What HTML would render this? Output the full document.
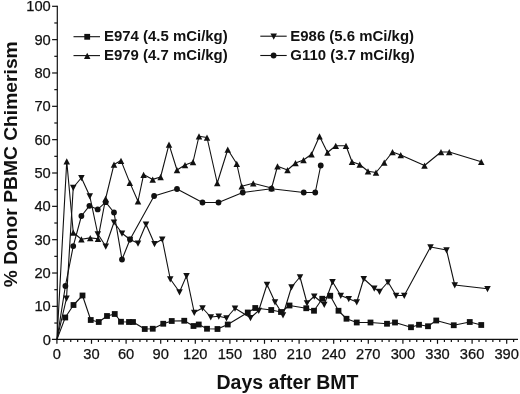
<!DOCTYPE html>
<html><head><meta charset="utf-8"><title>Donor PBMC Chimerism</title>
<style>html,body{margin:0;padding:0;background:#fff}svg{display:block}text{font-family:"Liberation Sans",Arial,sans-serif;fill:#111}</style></head><body>
<svg width="520" height="394" viewBox="0 0 520 394">
<rect width="520" height="394" fill="#fff"/>
<g stroke="#111" stroke-width="1.2" fill="none">
<line x1="57.3" y1="5.7" x2="57.3" y2="340.0"/>
<line x1="51.9" y1="339.4" x2="518" y2="339.4"/>
<line x1="54.30" y1="323.03" x2="57.3" y2="323.03"/>
<line x1="52.10" y1="306.36" x2="57.3" y2="306.36"/>
<line x1="54.30" y1="289.69" x2="57.3" y2="289.69"/>
<line x1="52.10" y1="273.02" x2="57.3" y2="273.02"/>
<line x1="54.30" y1="256.35" x2="57.3" y2="256.35"/>
<line x1="52.10" y1="239.68" x2="57.3" y2="239.68"/>
<line x1="54.30" y1="223.01" x2="57.3" y2="223.01"/>
<line x1="52.10" y1="206.34" x2="57.3" y2="206.34"/>
<line x1="54.30" y1="189.67" x2="57.3" y2="189.67"/>
<line x1="52.10" y1="173.00" x2="57.3" y2="173.00"/>
<line x1="54.30" y1="156.33" x2="57.3" y2="156.33"/>
<line x1="52.10" y1="139.66" x2="57.3" y2="139.66"/>
<line x1="54.30" y1="122.99" x2="57.3" y2="122.99"/>
<line x1="52.10" y1="106.32" x2="57.3" y2="106.32"/>
<line x1="54.30" y1="89.65" x2="57.3" y2="89.65"/>
<line x1="52.10" y1="72.98" x2="57.3" y2="72.98"/>
<line x1="54.30" y1="56.31" x2="57.3" y2="56.31"/>
<line x1="52.10" y1="39.64" x2="57.3" y2="39.64"/>
<line x1="54.30" y1="22.97" x2="57.3" y2="22.97"/>
<line x1="52.10" y1="6.30" x2="57.3" y2="6.30"/>
<line x1="56.90" y1="339.4" x2="56.90" y2="343.80"/>
<line x1="63.82" y1="339.4" x2="63.82" y2="342.00"/>
<line x1="70.74" y1="339.4" x2="70.74" y2="342.00"/>
<line x1="77.66" y1="339.4" x2="77.66" y2="342.00"/>
<line x1="84.58" y1="339.4" x2="84.58" y2="342.00"/>
<line x1="91.50" y1="339.4" x2="91.50" y2="343.80"/>
<line x1="98.42" y1="339.4" x2="98.42" y2="342.00"/>
<line x1="105.34" y1="339.4" x2="105.34" y2="342.00"/>
<line x1="112.26" y1="339.4" x2="112.26" y2="342.00"/>
<line x1="119.18" y1="339.4" x2="119.18" y2="342.00"/>
<line x1="126.10" y1="339.4" x2="126.10" y2="343.80"/>
<line x1="133.02" y1="339.4" x2="133.02" y2="342.00"/>
<line x1="139.94" y1="339.4" x2="139.94" y2="342.00"/>
<line x1="146.86" y1="339.4" x2="146.86" y2="342.00"/>
<line x1="153.78" y1="339.4" x2="153.78" y2="342.00"/>
<line x1="160.70" y1="339.4" x2="160.70" y2="343.80"/>
<line x1="167.62" y1="339.4" x2="167.62" y2="342.00"/>
<line x1="174.54" y1="339.4" x2="174.54" y2="342.00"/>
<line x1="181.46" y1="339.4" x2="181.46" y2="342.00"/>
<line x1="188.38" y1="339.4" x2="188.38" y2="342.00"/>
<line x1="195.30" y1="339.4" x2="195.30" y2="343.80"/>
<line x1="202.22" y1="339.4" x2="202.22" y2="342.00"/>
<line x1="209.14" y1="339.4" x2="209.14" y2="342.00"/>
<line x1="216.06" y1="339.4" x2="216.06" y2="342.00"/>
<line x1="222.98" y1="339.4" x2="222.98" y2="342.00"/>
<line x1="229.90" y1="339.4" x2="229.90" y2="343.80"/>
<line x1="236.82" y1="339.4" x2="236.82" y2="342.00"/>
<line x1="243.74" y1="339.4" x2="243.74" y2="342.00"/>
<line x1="250.66" y1="339.4" x2="250.66" y2="342.00"/>
<line x1="257.58" y1="339.4" x2="257.58" y2="342.00"/>
<line x1="264.50" y1="339.4" x2="264.50" y2="343.80"/>
<line x1="271.42" y1="339.4" x2="271.42" y2="342.00"/>
<line x1="278.34" y1="339.4" x2="278.34" y2="342.00"/>
<line x1="285.26" y1="339.4" x2="285.26" y2="342.00"/>
<line x1="292.18" y1="339.4" x2="292.18" y2="342.00"/>
<line x1="299.10" y1="339.4" x2="299.10" y2="343.80"/>
<line x1="306.02" y1="339.4" x2="306.02" y2="342.00"/>
<line x1="312.94" y1="339.4" x2="312.94" y2="342.00"/>
<line x1="319.86" y1="339.4" x2="319.86" y2="342.00"/>
<line x1="326.78" y1="339.4" x2="326.78" y2="342.00"/>
<line x1="333.70" y1="339.4" x2="333.70" y2="343.80"/>
<line x1="340.62" y1="339.4" x2="340.62" y2="342.00"/>
<line x1="347.54" y1="339.4" x2="347.54" y2="342.00"/>
<line x1="354.46" y1="339.4" x2="354.46" y2="342.00"/>
<line x1="361.38" y1="339.4" x2="361.38" y2="342.00"/>
<line x1="368.30" y1="339.4" x2="368.30" y2="343.80"/>
<line x1="375.22" y1="339.4" x2="375.22" y2="342.00"/>
<line x1="382.14" y1="339.4" x2="382.14" y2="342.00"/>
<line x1="389.06" y1="339.4" x2="389.06" y2="342.00"/>
<line x1="395.98" y1="339.4" x2="395.98" y2="342.00"/>
<line x1="402.90" y1="339.4" x2="402.90" y2="343.80"/>
<line x1="409.82" y1="339.4" x2="409.82" y2="342.00"/>
<line x1="416.74" y1="339.4" x2="416.74" y2="342.00"/>
<line x1="423.66" y1="339.4" x2="423.66" y2="342.00"/>
<line x1="430.58" y1="339.4" x2="430.58" y2="342.00"/>
<line x1="437.50" y1="339.4" x2="437.50" y2="343.80"/>
<line x1="444.42" y1="339.4" x2="444.42" y2="342.00"/>
<line x1="451.34" y1="339.4" x2="451.34" y2="342.00"/>
<line x1="458.26" y1="339.4" x2="458.26" y2="342.00"/>
<line x1="465.18" y1="339.4" x2="465.18" y2="342.00"/>
<line x1="472.10" y1="339.4" x2="472.10" y2="343.80"/>
<line x1="479.02" y1="339.4" x2="479.02" y2="342.00"/>
<line x1="485.94" y1="339.4" x2="485.94" y2="342.00"/>
<line x1="492.86" y1="339.4" x2="492.86" y2="342.00"/>
<line x1="499.78" y1="339.4" x2="499.78" y2="342.00"/>
<line x1="506.70" y1="339.4" x2="506.70" y2="343.80"/>
<line x1="513.62" y1="339.4" x2="513.62" y2="342.00"/>
</g>
<g font-size="14.7" stroke="#111" stroke-width="0.25">
<text x="50.8" y="344.60" text-anchor="end">0</text>
<text x="50.8" y="311.26" text-anchor="end">10</text>
<text x="50.8" y="277.92" text-anchor="end">20</text>
<text x="50.8" y="244.58" text-anchor="end">30</text>
<text x="50.8" y="211.24" text-anchor="end">40</text>
<text x="50.8" y="177.90" text-anchor="end">50</text>
<text x="50.8" y="144.56" text-anchor="end">60</text>
<text x="50.8" y="111.22" text-anchor="end">70</text>
<text x="50.8" y="77.88" text-anchor="end">80</text>
<text x="50.8" y="44.54" text-anchor="end">90</text>
<text x="50.8" y="11.20" text-anchor="end">100</text>
<text x="56.90" y="359.3" text-anchor="middle">0</text>
<text x="91.50" y="359.3" text-anchor="middle">30</text>
<text x="126.10" y="359.3" text-anchor="middle">60</text>
<text x="160.70" y="359.3" text-anchor="middle">90</text>
<text x="195.30" y="359.3" text-anchor="middle">120</text>
<text x="229.90" y="359.3" text-anchor="middle">150</text>
<text x="264.50" y="359.3" text-anchor="middle">180</text>
<text x="299.10" y="359.3" text-anchor="middle">210</text>
<text x="333.70" y="359.3" text-anchor="middle">240</text>
<text x="368.30" y="359.3" text-anchor="middle">270</text>
<text x="402.90" y="359.3" text-anchor="middle">300</text>
<text x="437.50" y="359.3" text-anchor="middle">330</text>
<text x="472.10" y="359.3" text-anchor="middle">360</text>
<text x="506.70" y="359.3" text-anchor="middle">390</text>
</g>
<text x="287.5" y="388.5" font-size="19.5" font-weight="bold" text-anchor="middle">Days after BMT</text>
<text transform="translate(17.2,164.3) rotate(-90)" font-size="19.25" font-weight="bold" text-anchor="middle">% Donor PBMC Chimerism</text>
<polyline points="57.00,339.40 65.25,317.50 73.50,305.00 82.50,295.50 90.75,320.00 98.75,322.00 107.00,316.00 114.75,314.00 121.00,321.75 129.00,322.00 133.00,322.00 144.75,329.00 152.75,328.75 163.25,323.75 171.75,321.00 184.25,320.75 193.50,326.00 198.75,324.50 207.00,328.75 217.50,329.00 227.75,324.50 247.75,312.50 255.25,308.00 271.25,310.00 281.00,312.00 289.50,305.50 306.25,308.25 314.00,310.75 322.25,298.75 330.25,295.75 338.50,310.75 346.50,318.75 356.75,322.50 370.50,322.50 387.00,323.75 395.00,322.50 411.00,327.25 419.00,324.75 428.00,326.25 436.25,320.50 453.75,325.25 469.75,322.00 481.25,325.00" fill="none" stroke="#111" stroke-width="1.1" stroke-linejoin="round"/>
<g fill="#111"><rect x="62.35" y="314.60" width="5.8" height="5.8"/><rect x="70.60" y="302.10" width="5.8" height="5.8"/><rect x="79.60" y="292.60" width="5.8" height="5.8"/><rect x="87.85" y="317.10" width="5.8" height="5.8"/><rect x="95.85" y="319.10" width="5.8" height="5.8"/><rect x="104.10" y="313.10" width="5.8" height="5.8"/><rect x="111.85" y="311.10" width="5.8" height="5.8"/><rect x="118.10" y="318.85" width="5.8" height="5.8"/><rect x="126.10" y="319.10" width="5.8" height="5.8"/><rect x="130.10" y="319.10" width="5.8" height="5.8"/><rect x="141.85" y="326.10" width="5.8" height="5.8"/><rect x="149.85" y="325.85" width="5.8" height="5.8"/><rect x="160.35" y="320.85" width="5.8" height="5.8"/><rect x="168.85" y="318.10" width="5.8" height="5.8"/><rect x="181.35" y="317.85" width="5.8" height="5.8"/><rect x="190.60" y="323.10" width="5.8" height="5.8"/><rect x="195.85" y="321.60" width="5.8" height="5.8"/><rect x="204.10" y="325.85" width="5.8" height="5.8"/><rect x="214.60" y="326.10" width="5.8" height="5.8"/><rect x="224.85" y="321.60" width="5.8" height="5.8"/><rect x="244.85" y="309.60" width="5.8" height="5.8"/><rect x="252.35" y="305.10" width="5.8" height="5.8"/><rect x="268.35" y="307.10" width="5.8" height="5.8"/><rect x="278.10" y="309.10" width="5.8" height="5.8"/><rect x="286.60" y="302.60" width="5.8" height="5.8"/><rect x="303.35" y="305.35" width="5.8" height="5.8"/><rect x="311.10" y="307.85" width="5.8" height="5.8"/><rect x="319.35" y="295.85" width="5.8" height="5.8"/><rect x="327.35" y="292.85" width="5.8" height="5.8"/><rect x="335.60" y="307.85" width="5.8" height="5.8"/><rect x="343.60" y="315.85" width="5.8" height="5.8"/><rect x="353.85" y="319.60" width="5.8" height="5.8"/><rect x="367.60" y="319.60" width="5.8" height="5.8"/><rect x="384.10" y="320.85" width="5.8" height="5.8"/><rect x="392.10" y="319.60" width="5.8" height="5.8"/><rect x="408.10" y="324.35" width="5.8" height="5.8"/><rect x="416.10" y="321.85" width="5.8" height="5.8"/><rect x="425.10" y="323.35" width="5.8" height="5.8"/><rect x="433.35" y="317.60" width="5.8" height="5.8"/><rect x="450.85" y="322.35" width="5.8" height="5.8"/><rect x="466.85" y="319.10" width="5.8" height="5.8"/><rect x="478.35" y="322.10" width="5.8" height="5.8"/></g>
<polyline points="57.00,339.40 66.75,161.25 73.25,232.50 81.40,239.25 90.25,237.90 98.00,238.70 105.60,198.75 114.00,164.40 121.00,160.60 129.80,182.60 138.00,201.25 143.60,174.60 152.70,179.40 160.60,177.00 169.00,144.40 177.00,170.00 185.00,165.00 193.00,162.00 199.00,136.25 207.00,137.50 217.25,183.00 227.75,149.50 236.75,163.75 241.75,186.25 253.25,183.25 271.60,188.00 277.50,166.25 287.50,170.00 295.50,163.00 303.50,160.00 311.50,154.25 319.50,136.25 327.50,152.50 335.75,145.75 346.00,145.75 352.00,161.75 359.75,164.50 368.00,171.25 376.00,172.50 384.25,162.50 392.50,152.00 400.75,155.00 424.50,165.50 441.00,152.00 449.25,152.00 481.25,161.75" fill="none" stroke="#111" stroke-width="1.1" stroke-linejoin="round"/>
<g fill="#111"><polygon points="66.75,158.35 70.00,164.55 63.50,164.55"/><polygon points="73.25,229.60 76.50,235.80 70.00,235.80"/><polygon points="81.40,236.35 84.65,242.55 78.15,242.55"/><polygon points="90.25,235.00 93.50,241.20 87.00,241.20"/><polygon points="98.00,235.80 101.25,242.00 94.75,242.00"/><polygon points="105.60,195.85 108.85,202.05 102.35,202.05"/><polygon points="114.00,161.50 117.25,167.70 110.75,167.70"/><polygon points="121.00,157.70 124.25,163.90 117.75,163.90"/><polygon points="129.80,179.70 133.05,185.90 126.55,185.90"/><polygon points="138.00,198.35 141.25,204.55 134.75,204.55"/><polygon points="143.60,171.70 146.85,177.90 140.35,177.90"/><polygon points="152.70,176.50 155.95,182.70 149.45,182.70"/><polygon points="160.60,174.10 163.85,180.30 157.35,180.30"/><polygon points="169.00,141.50 172.25,147.70 165.75,147.70"/><polygon points="177.00,167.10 180.25,173.30 173.75,173.30"/><polygon points="185.00,162.10 188.25,168.30 181.75,168.30"/><polygon points="193.00,159.10 196.25,165.30 189.75,165.30"/><polygon points="199.00,133.35 202.25,139.55 195.75,139.55"/><polygon points="207.00,134.60 210.25,140.80 203.75,140.80"/><polygon points="217.25,180.10 220.50,186.30 214.00,186.30"/><polygon points="227.75,146.60 231.00,152.80 224.50,152.80"/><polygon points="236.75,160.85 240.00,167.05 233.50,167.05"/><polygon points="241.75,183.35 245.00,189.55 238.50,189.55"/><polygon points="253.25,180.35 256.50,186.55 250.00,186.55"/><polygon points="271.60,185.10 274.85,191.30 268.35,191.30"/><polygon points="277.50,163.35 280.75,169.55 274.25,169.55"/><polygon points="287.50,167.10 290.75,173.30 284.25,173.30"/><polygon points="295.50,160.10 298.75,166.30 292.25,166.30"/><polygon points="303.50,157.10 306.75,163.30 300.25,163.30"/><polygon points="311.50,151.35 314.75,157.55 308.25,157.55"/><polygon points="319.50,133.35 322.75,139.55 316.25,139.55"/><polygon points="327.50,149.60 330.75,155.80 324.25,155.80"/><polygon points="335.75,142.85 339.00,149.05 332.50,149.05"/><polygon points="346.00,142.85 349.25,149.05 342.75,149.05"/><polygon points="352.00,158.85 355.25,165.05 348.75,165.05"/><polygon points="359.75,161.60 363.00,167.80 356.50,167.80"/><polygon points="368.00,168.35 371.25,174.55 364.75,174.55"/><polygon points="376.00,169.60 379.25,175.80 372.75,175.80"/><polygon points="384.25,159.60 387.50,165.80 381.00,165.80"/><polygon points="392.50,149.10 395.75,155.30 389.25,155.30"/><polygon points="400.75,152.10 404.00,158.30 397.50,158.30"/><polygon points="424.50,162.60 427.75,168.80 421.25,168.80"/><polygon points="441.00,149.10 444.25,155.30 437.75,155.30"/><polygon points="449.25,149.10 452.50,155.30 446.00,155.30"/><polygon points="481.25,158.85 484.50,165.05 478.00,165.05"/></g>
<polyline points="57.00,339.40 66.50,298.25 73.25,187.50 81.40,177.75 89.75,196.00 97.80,234.00 105.75,246.25 114.00,222.20 122.00,233.25 130.00,239.50 138.00,243.25 146.00,224.25 154.50,243.75 162.25,239.25 170.25,279.00 179.50,292.00 186.50,275.90 194.25,312.50 202.50,308.00 210.75,317.00 218.75,316.25 226.50,318.00 235.00,308.25 250.50,317.75 258.75,310.50 267.00,284.50 275.00,302.00 283.00,315.00 291.50,287.00 300.00,277.00 307.00,303.00 314.25,296.25 324.25,304.50 332.50,281.75 340.75,295.50 348.75,298.75 356.75,302.00 363.75,278.75 374.25,288.25 379.50,291.50 388.00,282.00 396.10,295.50 404.25,295.50 430.50,247.00 446.50,250.00 454.75,285.00 487.50,288.75" fill="none" stroke="#111" stroke-width="1.1" stroke-linejoin="round"/>
<g fill="#111"><polygon points="66.50,301.65 69.75,295.45 63.25,295.45"/><polygon points="73.25,190.90 76.50,184.70 70.00,184.70"/><polygon points="81.40,181.15 84.65,174.95 78.15,174.95"/><polygon points="89.75,199.40 93.00,193.20 86.50,193.20"/><polygon points="97.80,237.40 101.05,231.20 94.55,231.20"/><polygon points="105.75,249.65 109.00,243.45 102.50,243.45"/><polygon points="114.00,225.60 117.25,219.40 110.75,219.40"/><polygon points="122.00,236.65 125.25,230.45 118.75,230.45"/><polygon points="130.00,242.90 133.25,236.70 126.75,236.70"/><polygon points="138.00,246.65 141.25,240.45 134.75,240.45"/><polygon points="146.00,227.65 149.25,221.45 142.75,221.45"/><polygon points="154.50,247.15 157.75,240.95 151.25,240.95"/><polygon points="162.25,242.65 165.50,236.45 159.00,236.45"/><polygon points="170.25,282.40 173.50,276.20 167.00,276.20"/><polygon points="179.50,295.40 182.75,289.20 176.25,289.20"/><polygon points="186.50,279.30 189.75,273.10 183.25,273.10"/><polygon points="194.25,315.90 197.50,309.70 191.00,309.70"/><polygon points="202.50,311.40 205.75,305.20 199.25,305.20"/><polygon points="210.75,320.40 214.00,314.20 207.50,314.20"/><polygon points="218.75,319.65 222.00,313.45 215.50,313.45"/><polygon points="226.50,321.40 229.75,315.20 223.25,315.20"/><polygon points="235.00,311.65 238.25,305.45 231.75,305.45"/><polygon points="250.50,321.15 253.75,314.95 247.25,314.95"/><polygon points="258.75,313.90 262.00,307.70 255.50,307.70"/><polygon points="267.00,287.90 270.25,281.70 263.75,281.70"/><polygon points="275.00,305.40 278.25,299.20 271.75,299.20"/><polygon points="283.00,318.40 286.25,312.20 279.75,312.20"/><polygon points="291.50,290.40 294.75,284.20 288.25,284.20"/><polygon points="300.00,280.40 303.25,274.20 296.75,274.20"/><polygon points="307.00,306.40 310.25,300.20 303.75,300.20"/><polygon points="314.25,299.65 317.50,293.45 311.00,293.45"/><polygon points="324.25,307.90 327.50,301.70 321.00,301.70"/><polygon points="332.50,285.15 335.75,278.95 329.25,278.95"/><polygon points="340.75,298.90 344.00,292.70 337.50,292.70"/><polygon points="348.75,302.15 352.00,295.95 345.50,295.95"/><polygon points="356.75,305.40 360.00,299.20 353.50,299.20"/><polygon points="363.75,282.15 367.00,275.95 360.50,275.95"/><polygon points="374.25,291.65 377.50,285.45 371.00,285.45"/><polygon points="379.50,294.90 382.75,288.70 376.25,288.70"/><polygon points="388.00,285.40 391.25,279.20 384.75,279.20"/><polygon points="396.10,298.90 399.35,292.70 392.85,292.70"/><polygon points="404.25,298.90 407.50,292.70 401.00,292.70"/><polygon points="430.50,250.40 433.75,244.20 427.25,244.20"/><polygon points="446.50,253.40 449.75,247.20 443.25,247.20"/><polygon points="454.75,288.40 458.00,282.20 451.50,282.20"/><polygon points="487.50,292.15 490.75,285.95 484.25,285.95"/></g>
<polyline points="57.00,339.40 65.40,286.00 73.25,246.10 81.40,216.00 89.40,205.80 97.70,209.40 105.70,202.20 114.00,212.50 122.00,259.50 130.00,239.50 154.10,196.00 177.00,189.00 202.50,202.50 218.50,202.50 242.75,192.50 271.50,188.75 303.75,192.50 315.25,192.50 320.75,165.50" fill="none" stroke="#111" stroke-width="1.1" stroke-linejoin="round"/>
<g fill="#111"><circle cx="65.40" cy="286.00" r="2.9"/><circle cx="73.25" cy="246.10" r="2.9"/><circle cx="81.40" cy="216.00" r="2.9"/><circle cx="89.40" cy="205.80" r="2.9"/><circle cx="97.70" cy="209.40" r="2.9"/><circle cx="105.70" cy="202.20" r="2.9"/><circle cx="114.00" cy="212.50" r="2.9"/><circle cx="122.00" cy="259.50" r="2.9"/><circle cx="130.00" cy="239.50" r="2.9"/><circle cx="154.10" cy="196.00" r="2.9"/><circle cx="177.00" cy="189.00" r="2.9"/><circle cx="202.50" cy="202.50" r="2.9"/><circle cx="218.50" cy="202.50" r="2.9"/><circle cx="242.75" cy="192.50" r="2.9"/><circle cx="271.50" cy="188.75" r="2.9"/><circle cx="303.75" cy="192.50" r="2.9"/><circle cx="315.25" cy="192.50" r="2.9"/><circle cx="320.75" cy="165.50" r="2.9"/></g>
<g stroke="#111" stroke-width="1.1">
<line x1="73.5" y1="36.7" x2="100" y2="36.7"/>
<line x1="73.5" y1="55.6" x2="100" y2="55.6"/>
<line x1="260.3" y1="36.2" x2="286.7" y2="36.2"/>
<line x1="260.3" y1="55.5" x2="286.7" y2="55.5"/>
</g>
<g fill="#111"><rect x="84.30" y="33.90" width="5.8" height="5.8"/><polygon points="87.20,52.70 90.45,58.90 83.95,58.90"/><polygon points="273.70,39.70 276.95,33.50 270.45,33.50"/><circle cx="273.60" cy="55.50" r="2.9"/></g>
<g font-size="14.95" font-weight="bold">
<text x="104" y="41.4">E974 (4.5 mCi/kg)</text>
<text x="104" y="60.3">E979 (4.7 mCi/kg)</text>
<text x="290.3" y="41.0">E986 (5.6 mCi/kg)</text>
<text x="290.3" y="60.4">G110 (3.7 mCi/kg)</text>
</g>
</svg></body></html>
